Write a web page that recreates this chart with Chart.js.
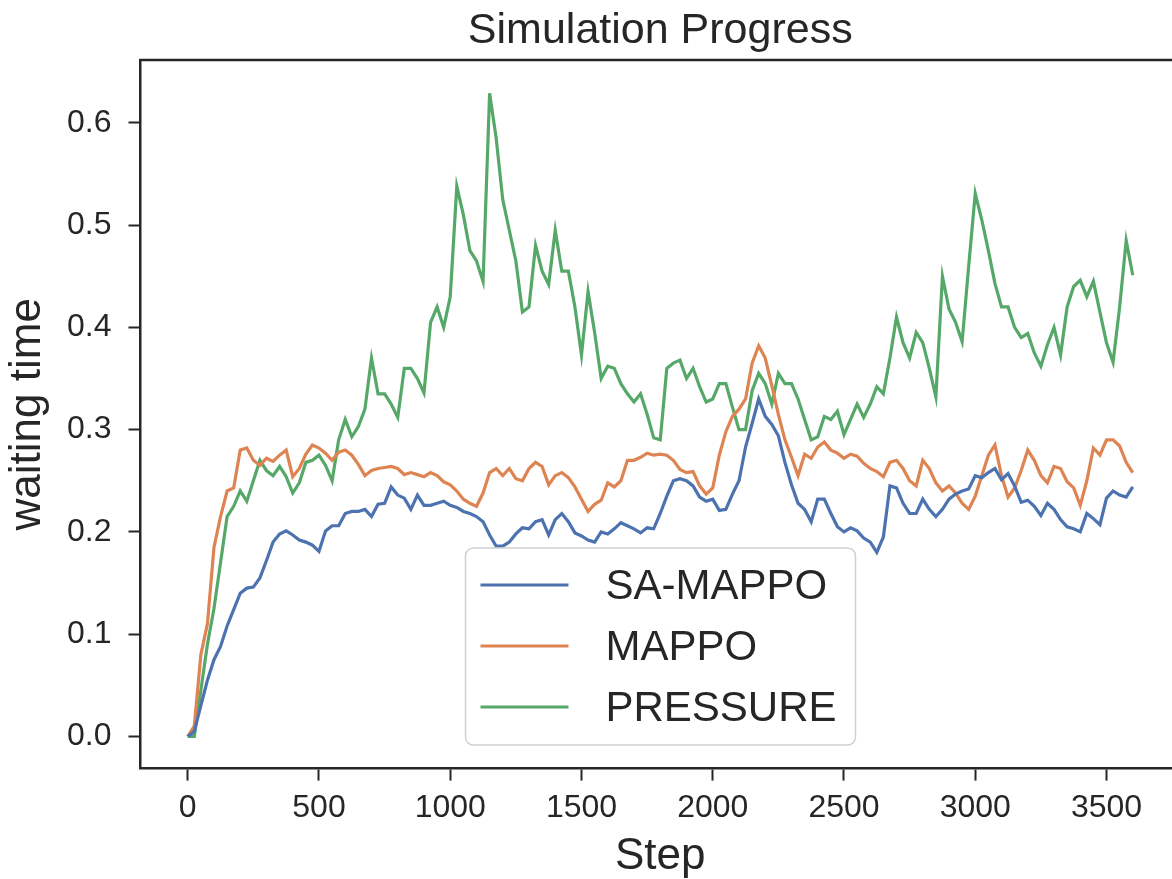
<!DOCTYPE html>
<html>
<head>
<meta charset="utf-8">
<title>Simulation Progress</title>
<script src="https://cdn.jsdelivr.net/npm/chart.js@4.4.1/dist/chart.umd.min.js"></script>
<style>
  html, body { margin: 0; padding: 0; background: #ffffff; overflow: hidden; }
  #wrap { width: 1180px; height: 879px; }
</style>
</head>
<body>
<div id="wrap"><canvas id="myChart"></canvas></div>
<script>
// Datos del gráfico

const steps = [
  0, 25, 50, 75, 100, 125, 150, 175, 200, 225, 250, 275, 300, 325, 350, 375,
  400, 425, 450, 475, 500, 525, 550, 575, 600, 625, 650, 675, 700, 725, 750, 775,
  800, 825, 850, 875, 900, 925, 950, 975, 1000, 1025, 1050, 1075, 1100, 1125, 1150, 1175,
  1200, 1225, 1250, 1275, 1300, 1325, 1350, 1375, 1400, 1425, 1450, 1475, 1500, 1525, 1550, 1575,
  1600, 1625, 1650, 1675, 1700, 1725, 1750, 1775, 1800, 1825, 1850, 1875, 1900, 1925, 1950, 1975,
  2000, 2025, 2050, 2075, 2100, 2125, 2150, 2175, 2200, 2225, 2250, 2275, 2300, 2325, 2350, 2375,
  2400, 2425, 2450, 2475, 2500, 2525, 2550, 2575, 2600, 2625, 2650, 2675, 2700, 2725, 2750, 2775,
  2800, 2825, 2850, 2875, 2900, 2925, 2950, 2975, 3000, 3025, 3050, 3075, 3100, 3125, 3150, 3175,
  3200, 3225, 3250, 3275, 3300, 3325, 3350, 3375, 3400, 3425, 3450, 3475, 3500, 3525, 3550, 3575,
  3600
];

const saMappo = [
  0, 0.005, 0.03, 0.055, 0.075, 0.088, 0.108, 0.124, 0.14, 0.145, 0.146, 0.155, 0.172, 0.19, 0.198, 0.201,
  0.197, 0.192, 0.19, 0.187, 0.181, 0.201, 0.206, 0.206, 0.218, 0.22, 0.22, 0.222, 0.215, 0.227, 0.228, 0.244,
  0.236, 0.233, 0.222, 0.236, 0.226, 0.226, 0.228, 0.23, 0.226, 0.224, 0.22, 0.218, 0.215, 0.21, 0.197, 0.186,
  0.186, 0.19, 0.198, 0.204, 0.203, 0.21, 0.212, 0.197, 0.212, 0.218, 0.21, 0.199, 0.196, 0.192, 0.19, 0.2,
  0.198, 0.203, 0.209, 0.206, 0.203, 0.199, 0.204, 0.203, 0.218, 0.235, 0.25, 0.252, 0.25, 0.245, 0.234, 0.23,
  0.232, 0.221, 0.222, 0.237, 0.25, 0.283, 0.306, 0.33, 0.313, 0.305, 0.294, 0.268, 0.246, 0.228, 0.222, 0.21,
  0.232, 0.232, 0.218, 0.205, 0.2, 0.204, 0.201, 0.194, 0.19, 0.18, 0.195, 0.245, 0.243, 0.228, 0.218, 0.218,
  0.232, 0.222, 0.215, 0.222, 0.232, 0.237, 0.24, 0.242, 0.255, 0.253, 0.258, 0.262, 0.251, 0.257, 0.245, 0.229,
  0.231, 0.225, 0.216, 0.228, 0.222, 0.212, 0.205, 0.203, 0.2, 0.218, 0.213, 0.207, 0.233, 0.24, 0.236, 0.234,
  0.244
];

const mappo = [
  0, 0.01, 0.08, 0.11, 0.185, 0.215, 0.24, 0.243, 0.28, 0.282, 0.27, 0.265, 0.272, 0.269, 0.275, 0.28,
  0.254, 0.262, 0.276, 0.285, 0.282, 0.277, 0.27, 0.278, 0.28, 0.275, 0.266, 0.255, 0.26, 0.262, 0.263, 0.264,
  0.262, 0.256, 0.258, 0.256, 0.254, 0.258, 0.255, 0.249, 0.246, 0.24, 0.232, 0.228, 0.225, 0.238, 0.258, 0.262,
  0.255, 0.262, 0.252, 0.25, 0.262, 0.268, 0.264, 0.246, 0.255, 0.258, 0.253, 0.244, 0.232, 0.22, 0.227, 0.231,
  0.248, 0.244, 0.25, 0.27, 0.27, 0.273, 0.277, 0.275, 0.276, 0.275, 0.27, 0.261, 0.258, 0.259, 0.245, 0.237,
  0.243, 0.275, 0.298, 0.313, 0.32, 0.33, 0.365, 0.382, 0.37, 0.343, 0.315, 0.29, 0.273, 0.255, 0.276, 0.272,
  0.283, 0.288, 0.28, 0.277, 0.272, 0.276, 0.274, 0.267, 0.262, 0.259, 0.254, 0.268, 0.27, 0.262, 0.25, 0.245,
  0.27, 0.262, 0.248, 0.24, 0.245, 0.238, 0.228, 0.222, 0.235, 0.255, 0.275, 0.285, 0.255, 0.234, 0.243, 0.26,
  0.28, 0.27, 0.255, 0.248, 0.264, 0.262, 0.249, 0.243, 0.226, 0.25, 0.282, 0.275, 0.29, 0.29, 0.284, 0.268,
  0.258
];

const pressure = [
  0, 0, 0.045, 0.09, 0.125, 0.17, 0.215, 0.225, 0.24, 0.23, 0.25, 0.27, 0.26, 0.255, 0.264, 0.254,
  0.238, 0.248, 0.268, 0.27, 0.275, 0.265, 0.25, 0.29, 0.31, 0.293, 0.303, 0.32, 0.37, 0.335, 0.335, 0.325,
  0.312, 0.36, 0.36, 0.35, 0.336, 0.405, 0.42, 0.4, 0.43, 0.538, 0.51, 0.475, 0.465, 0.445, 0.629, 0.585,
  0.525, 0.495, 0.465, 0.415, 0.42, 0.48, 0.455, 0.442, 0.495, 0.455, 0.455, 0.42, 0.373, 0.435, 0.395, 0.35,
  0.362, 0.36, 0.345, 0.335, 0.327, 0.335, 0.315, 0.292, 0.29, 0.36, 0.365, 0.368, 0.35, 0.36, 0.342, 0.327,
  0.33, 0.345, 0.345, 0.322, 0.3, 0.3, 0.338, 0.355, 0.345, 0.325, 0.355, 0.345, 0.345, 0.33, 0.31, 0.29,
  0.293, 0.313, 0.31, 0.318, 0.295, 0.31, 0.325, 0.312, 0.325, 0.342, 0.335, 0.37, 0.41, 0.385, 0.37, 0.395,
  0.385, 0.36, 0.332, 0.45, 0.418, 0.405, 0.386, 0.46, 0.531, 0.505, 0.475, 0.443, 0.42, 0.42, 0.4, 0.39,
  0.394, 0.375, 0.362, 0.383, 0.4, 0.373, 0.42, 0.44, 0.446, 0.43, 0.445, 0.415, 0.385, 0.366, 0.42, 0.485,
  0.451
];

const seriesNames = ["SA-MAPPO", "MAPPO", "PRESSURE"];
const xTicks = [0, 500, 1000, 1500, 2000, 2500, 3000, 3500];
const yTicks = [0, 0.1, 0.2, 0.3, 0.4, 0.5, 0.6];
const tituloTexto = "Simulation Progress";

const colores = ["#4C72B0", "#DD8452", "#55A868"];
const textColor = "#262626";
const fontFamily = "'Liberation Sans', Arial, sans-serif";

// Armar puntos x/y
function crearPuntos(valores) {
  return steps.map((s, i) => ({ x: s, y: valores[i] }));
}

// Título centrado sobre el área del gráfico + marco superior
const tituloYMarco = {
  id: "tituloYMarco",
  afterDraw(chart) {
    const { ctx, chartArea } = chart;
    ctx.save();
    ctx.strokeStyle = textColor;
    ctx.lineWidth = 2.5;
    ctx.beginPath();
    ctx.moveTo(chartArea.left - 1, chartArea.top);
    ctx.lineTo(chartArea.right + 2, chartArea.top);
    ctx.stroke();

    ctx.fillStyle = textColor;
    ctx.font = "43px " + fontFamily;
    ctx.textAlign = "center";
    ctx.textBaseline = "middle";
    ctx.fillText(tituloTexto, (chartArea.left + chartArea.right) / 2, 31);
    ctx.restore();
  },
};

// Leyenda dentro del gráfico
const leyenda = {
  id: "leyenda",
  afterDatasetsDraw(chart) {
    const { ctx, chartArea } = chart;
    const x = chartArea.left + 325;
    const y = chartArea.top + 488;
    const w = 390;
    const h = 197;
    const r = 8;
    ctx.save();
    ctx.beginPath();
    ctx.moveTo(x + r, y);
    ctx.arcTo(x + w, y, x + w, y + h, r);
    ctx.arcTo(x + w, y + h, x, y + h, r);
    ctx.arcTo(x, y + h, x, y, r);
    ctx.arcTo(x, y, x + w, y, r);
    ctx.closePath();
    ctx.fillStyle = "rgba(255,255,255,0.8)";
    ctx.fill();
    ctx.strokeStyle = "#d0d0d0";
    ctx.lineWidth = 1.5;
    ctx.stroke();

    chart.data.datasets.forEach((ds, i) => {
      const cy = y + 37 + i * 61;
      ctx.strokeStyle = ds.borderColor;
      ctx.lineWidth = 3;
      ctx.beginPath();
      ctx.moveTo(x + 15, cy);
      ctx.lineTo(x + 103, cy);
      ctx.stroke();
      ctx.fillStyle = textColor;
      ctx.font = "42px " + fontFamily;
      ctx.textBaseline = "middle";
      ctx.textAlign = "left";
      ctx.fillText(ds.label, x + 140, cy + 2);
    });
    ctx.restore();
  },
};

const datasets = [saMappo, mappo, pressure].map((valores, i) => ({
  label: seriesNames[i],
  data: crearPuntos(valores),
  borderColor: colores[i],
  backgroundColor: colores[i],
  borderWidth: 3.2,
  pointRadius: 0,
  tension: 0,
  fill: false,
}));

const chartDom = document.getElementById("myChart");

new Chart(chartDom, {
  type: "line",
  data: { datasets },
  plugins: [tituloYMarco, leyenda],
  options: {
    responsive: true,
    maintainAspectRatio: false,
    animation: false,
    layout: { padding: { left: 0, right: 0, top: 60, bottom: 0 } },
    plugins: {
      legend: { display: false },
      tooltip: { enabled: false },
      title: { display: false },
    },
    scales: {
      x: {
        type: "linear",
        min: -180,
        max: 3780,
        afterBuildTicks: (scale) => {
          scale.ticks = xTicks.map((v) => ({ value: v }));
        },
        grid: {
          drawOnChartArea: false,
          drawTicks: true,
          tickLength: 12,
          tickWidth: 2,
          tickColor: textColor,
        },
        border: { display: true, color: textColor, width: 2.5 },
        ticks: {
          color: textColor,
          font: { family: fontFamily, size: 32 },
          padding: 8,
          maxRotation: 0,
          callback: (v) => String(v),
        },
        title: {
          display: true,
          text: "Step",
          color: textColor,
          font: { family: fontFamily, size: 44, lineHeight: 1 },
          padding: { top: 0, bottom: 0 },
        },
      },
      y: {
        type: "linear",
        min: -0.0315,
        max: 0.6615,
        afterBuildTicks: (scale) => {
          scale.ticks = yTicks.map((v) => ({ value: v }));
        },
        grid: {
          drawOnChartArea: false,
          drawTicks: true,
          tickLength: 12,
          tickWidth: 2,
          tickColor: textColor,
        },
        border: { display: true, color: textColor, width: 2.5 },
        ticks: {
          color: textColor,
          font: { family: fontFamily, size: 32 },
          padding: 17,
          callback: (v) => v.toFixed(1),
        },
        title: {
          display: true,
          text: "waiting time",
          color: textColor,
          font: { family: fontFamily, size: 44, lineHeight: 1 },
          padding: { top: 6, bottom: 0 },
        },
      },
    },
  },
});
</script>
</body>
</html>
